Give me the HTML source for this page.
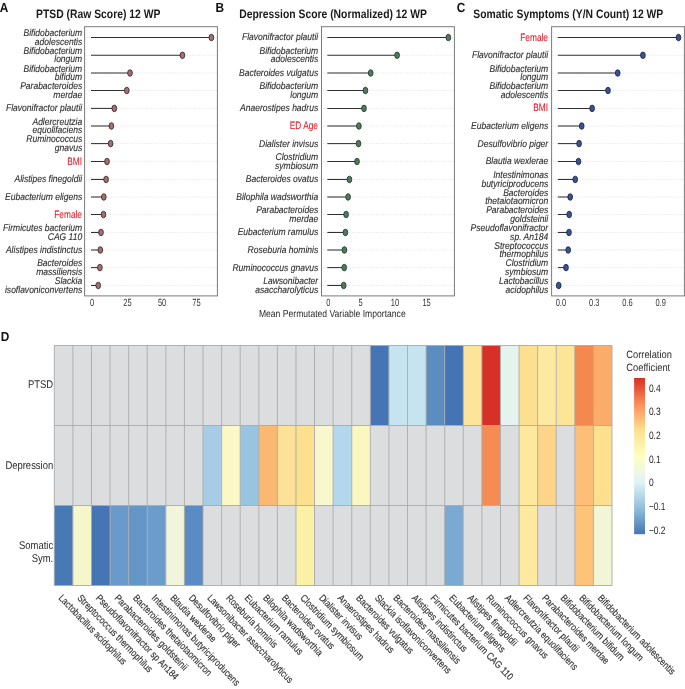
<!DOCTYPE html>
<html><head><meta charset="utf-8"><style>
html,body{margin:0;padding:0;background:#fff;}
svg{display:block;will-change:transform;}
text{font-family:"Liberation Sans", sans-serif;text-rendering:geometricPrecision;}
</style></head><body>
<svg width="685" height="689" viewBox="0 0 685 689">
<rect width="685" height="689" fill="#fff"/>
<text transform="translate(-0.30,11.80) scale(0.9,1)" font-size="13.2" text-anchor="start" fill="#111" font-weight="bold" >A</text>
<text transform="translate(215.50,11.80) scale(0.9,1)" font-size="13.2" text-anchor="start" fill="#111" font-weight="bold" >B</text>
<text transform="translate(456.80,11.80) scale(0.9,1)" font-size="13.2" text-anchor="start" fill="#111" font-weight="bold" >C</text>
<text transform="translate(0.80,340.60) scale(0.9,1)" font-size="13.2" text-anchor="start" fill="#111" font-weight="bold" >D</text>
<text transform="translate(36.00,17.80) scale(0.85,1)" font-size="12.2" text-anchor="start" fill="#1a1a1a" font-weight="bold" >PTSD (Raw Score) 12 WP</text>
<text transform="translate(239.20,17.80) scale(0.85,1)" font-size="12.2" text-anchor="start" fill="#1a1a1a" font-weight="bold" >Depression Score (Normalized) 12 WP</text>
<text transform="translate(473.30,17.80) scale(0.85,1)" font-size="12.2" text-anchor="start" fill="#1a1a1a" font-weight="bold" >Somatic Symptoms (Y/N Count) 12 WP</text>
<line x1="86.10" y1="37.50" x2="216.90" y2="37.50" stroke="#e2e2e2" stroke-width="0.9" stroke-dasharray="1 1.4"/>
<line x1="86.10" y1="55.30" x2="216.90" y2="55.30" stroke="#e2e2e2" stroke-width="0.9" stroke-dasharray="1 1.4"/>
<line x1="86.10" y1="73.00" x2="216.90" y2="73.00" stroke="#e2e2e2" stroke-width="0.9" stroke-dasharray="1 1.4"/>
<line x1="86.10" y1="90.50" x2="216.90" y2="90.50" stroke="#e2e2e2" stroke-width="0.9" stroke-dasharray="1 1.4"/>
<line x1="86.10" y1="108.40" x2="216.90" y2="108.40" stroke="#e2e2e2" stroke-width="0.9" stroke-dasharray="1 1.4"/>
<line x1="86.10" y1="126.00" x2="216.90" y2="126.00" stroke="#e2e2e2" stroke-width="0.9" stroke-dasharray="1 1.4"/>
<line x1="86.10" y1="143.60" x2="216.90" y2="143.60" stroke="#e2e2e2" stroke-width="0.9" stroke-dasharray="1 1.4"/>
<line x1="86.10" y1="161.50" x2="216.90" y2="161.50" stroke="#e2e2e2" stroke-width="0.9" stroke-dasharray="1 1.4"/>
<line x1="86.10" y1="179.45" x2="216.90" y2="179.45" stroke="#e2e2e2" stroke-width="0.9" stroke-dasharray="1 1.4"/>
<line x1="86.10" y1="197.00" x2="216.90" y2="197.00" stroke="#e2e2e2" stroke-width="0.9" stroke-dasharray="1 1.4"/>
<line x1="86.10" y1="214.50" x2="216.90" y2="214.50" stroke="#e2e2e2" stroke-width="0.9" stroke-dasharray="1 1.4"/>
<line x1="86.10" y1="232.45" x2="216.90" y2="232.45" stroke="#e2e2e2" stroke-width="0.9" stroke-dasharray="1 1.4"/>
<line x1="86.10" y1="250.00" x2="216.90" y2="250.00" stroke="#e2e2e2" stroke-width="0.9" stroke-dasharray="1 1.4"/>
<line x1="86.10" y1="267.60" x2="216.90" y2="267.60" stroke="#e2e2e2" stroke-width="0.9" stroke-dasharray="1 1.4"/>
<line x1="86.10" y1="285.45" x2="216.90" y2="285.45" stroke="#e2e2e2" stroke-width="0.9" stroke-dasharray="1 1.4"/>
<rect x="84.60" y="26.70" width="132.80" height="269.20" fill="none" stroke="#7a7a7a" stroke-width="1"/>
<line x1="91.00" y1="37.50" x2="211.40" y2="37.50" stroke="#303030" stroke-width="1.05"/>
<ellipse cx="211.40" cy="37.50" rx="2.35" ry="3.3" fill="#a56e73" stroke="#2e2224" stroke-width="0.8"/>
<text transform="translate(82.20,36.30) scale(0.87,1)" font-size="9.8" text-anchor="end" fill="#2e2e2e" stroke="#2e2e2e" stroke-width="0.12" font-style="italic" >Bifidobacterium</text>
<text transform="translate(82.20,44.60) scale(0.87,1)" font-size="9.8" text-anchor="end" fill="#2e2e2e" stroke="#2e2e2e" stroke-width="0.12" font-style="italic" >adolescentis</text>
<line x1="91.00" y1="55.30" x2="182.40" y2="55.30" stroke="#303030" stroke-width="1.05"/>
<ellipse cx="182.40" cy="55.30" rx="2.35" ry="3.3" fill="#a56e73" stroke="#2e2224" stroke-width="0.8"/>
<text transform="translate(82.20,54.10) scale(0.87,1)" font-size="9.8" text-anchor="end" fill="#2e2e2e" stroke="#2e2e2e" stroke-width="0.12" font-style="italic" >Bifidobacterium</text>
<text transform="translate(82.20,62.40) scale(0.87,1)" font-size="9.8" text-anchor="end" fill="#2e2e2e" stroke="#2e2e2e" stroke-width="0.12" font-style="italic" >longum</text>
<line x1="91.00" y1="73.00" x2="130.00" y2="73.00" stroke="#303030" stroke-width="1.05"/>
<ellipse cx="130.00" cy="73.00" rx="2.35" ry="3.3" fill="#a56e73" stroke="#2e2224" stroke-width="0.8"/>
<text transform="translate(82.20,71.80) scale(0.87,1)" font-size="9.8" text-anchor="end" fill="#2e2e2e" stroke="#2e2e2e" stroke-width="0.12" font-style="italic" >Bifidobacterium</text>
<text transform="translate(82.20,80.10) scale(0.87,1)" font-size="9.8" text-anchor="end" fill="#2e2e2e" stroke="#2e2e2e" stroke-width="0.12" font-style="italic" >bifidum</text>
<line x1="91.00" y1="90.50" x2="126.80" y2="90.50" stroke="#303030" stroke-width="1.05"/>
<ellipse cx="126.80" cy="90.50" rx="2.35" ry="3.3" fill="#a56e73" stroke="#2e2224" stroke-width="0.8"/>
<text transform="translate(82.20,89.30) scale(0.87,1)" font-size="9.8" text-anchor="end" fill="#2e2e2e" stroke="#2e2e2e" stroke-width="0.12" font-style="italic" >Parabacteroides</text>
<text transform="translate(82.20,97.60) scale(0.87,1)" font-size="9.8" text-anchor="end" fill="#2e2e2e" stroke="#2e2e2e" stroke-width="0.12" font-style="italic" >merdae</text>
<line x1="91.00" y1="108.40" x2="114.30" y2="108.40" stroke="#303030" stroke-width="1.05"/>
<ellipse cx="114.30" cy="108.40" rx="2.35" ry="3.3" fill="#a56e73" stroke="#2e2224" stroke-width="0.8"/>
<text transform="translate(82.20,111.30) scale(0.87,1)" font-size="9.8" text-anchor="end" fill="#2e2e2e" stroke="#2e2e2e" stroke-width="0.12" font-style="italic" >Flavonifractor plautii</text>
<line x1="91.00" y1="126.00" x2="111.40" y2="126.00" stroke="#303030" stroke-width="1.05"/>
<ellipse cx="111.40" cy="126.00" rx="2.35" ry="3.3" fill="#a56e73" stroke="#2e2224" stroke-width="0.8"/>
<text transform="translate(82.20,124.80) scale(0.87,1)" font-size="9.8" text-anchor="end" fill="#2e2e2e" stroke="#2e2e2e" stroke-width="0.12" font-style="italic" >Adlercreutzia</text>
<text transform="translate(82.20,133.10) scale(0.87,1)" font-size="9.8" text-anchor="end" fill="#2e2e2e" stroke="#2e2e2e" stroke-width="0.12" font-style="italic" >equolifaciens</text>
<line x1="91.00" y1="143.60" x2="110.60" y2="143.60" stroke="#303030" stroke-width="1.05"/>
<ellipse cx="110.60" cy="143.60" rx="2.35" ry="3.3" fill="#a56e73" stroke="#2e2224" stroke-width="0.8"/>
<text transform="translate(82.20,142.40) scale(0.87,1)" font-size="9.8" text-anchor="end" fill="#2e2e2e" stroke="#2e2e2e" stroke-width="0.12" font-style="italic" >Ruminococcus</text>
<text transform="translate(82.20,150.70) scale(0.87,1)" font-size="9.8" text-anchor="end" fill="#2e2e2e" stroke="#2e2e2e" stroke-width="0.12" font-style="italic" >gnavus</text>
<line x1="91.00" y1="161.50" x2="107.00" y2="161.50" stroke="#303030" stroke-width="1.05"/>
<ellipse cx="107.00" cy="161.50" rx="2.35" ry="3.3" fill="#a56e73" stroke="#2e2224" stroke-width="0.8"/>
<text transform="translate(82.00,164.50) scale(0.77,1)" font-size="10.8" text-anchor="end" fill="#e41e2b" stroke="#e41e2b" stroke-width="0.1" >BMI</text>
<line x1="91.00" y1="179.45" x2="106.10" y2="179.45" stroke="#303030" stroke-width="1.05"/>
<ellipse cx="106.10" cy="179.45" rx="2.35" ry="3.3" fill="#a56e73" stroke="#2e2224" stroke-width="0.8"/>
<text transform="translate(82.20,182.35) scale(0.87,1)" font-size="9.8" text-anchor="end" fill="#2e2e2e" stroke="#2e2e2e" stroke-width="0.12" font-style="italic" >Alistipes finegoldii</text>
<line x1="91.00" y1="197.00" x2="103.80" y2="197.00" stroke="#303030" stroke-width="1.05"/>
<ellipse cx="103.80" cy="197.00" rx="2.35" ry="3.3" fill="#a56e73" stroke="#2e2224" stroke-width="0.8"/>
<text transform="translate(82.20,199.90) scale(0.87,1)" font-size="9.8" text-anchor="end" fill="#2e2e2e" stroke="#2e2e2e" stroke-width="0.12" font-style="italic" >Eubacterium eligens</text>
<line x1="91.00" y1="214.50" x2="103.50" y2="214.50" stroke="#303030" stroke-width="1.05"/>
<ellipse cx="103.50" cy="214.50" rx="2.35" ry="3.3" fill="#a56e73" stroke="#2e2224" stroke-width="0.8"/>
<text transform="translate(82.00,217.50) scale(0.77,1)" font-size="10.8" text-anchor="end" fill="#e41e2b" stroke="#e41e2b" stroke-width="0.1" >Female</text>
<line x1="91.00" y1="232.45" x2="101.00" y2="232.45" stroke="#303030" stroke-width="1.05"/>
<ellipse cx="101.00" cy="232.45" rx="2.35" ry="3.3" fill="#a56e73" stroke="#2e2224" stroke-width="0.8"/>
<text transform="translate(82.20,231.25) scale(0.87,1)" font-size="9.8" text-anchor="end" fill="#2e2e2e" stroke="#2e2e2e" stroke-width="0.12" font-style="italic" >Firmicutes bacterium</text>
<text transform="translate(82.20,239.55) scale(0.87,1)" font-size="9.8" text-anchor="end" fill="#2e2e2e" stroke="#2e2e2e" stroke-width="0.12" font-style="italic" >CAG 110</text>
<line x1="91.00" y1="250.00" x2="100.30" y2="250.00" stroke="#303030" stroke-width="1.05"/>
<ellipse cx="100.30" cy="250.00" rx="2.35" ry="3.3" fill="#a56e73" stroke="#2e2224" stroke-width="0.8"/>
<text transform="translate(82.20,252.90) scale(0.87,1)" font-size="9.8" text-anchor="end" fill="#2e2e2e" stroke="#2e2e2e" stroke-width="0.12" font-style="italic" >Alistipes indistinctus</text>
<line x1="91.00" y1="267.60" x2="99.90" y2="267.60" stroke="#303030" stroke-width="1.05"/>
<ellipse cx="99.90" cy="267.60" rx="2.35" ry="3.3" fill="#a56e73" stroke="#2e2224" stroke-width="0.8"/>
<text transform="translate(82.20,266.40) scale(0.87,1)" font-size="9.8" text-anchor="end" fill="#2e2e2e" stroke="#2e2e2e" stroke-width="0.12" font-style="italic" >Bacteroides</text>
<text transform="translate(82.20,274.70) scale(0.87,1)" font-size="9.8" text-anchor="end" fill="#2e2e2e" stroke="#2e2e2e" stroke-width="0.12" font-style="italic" >massiliensis</text>
<line x1="91.00" y1="285.45" x2="98.20" y2="285.45" stroke="#303030" stroke-width="1.05"/>
<ellipse cx="98.20" cy="285.45" rx="2.35" ry="3.3" fill="#a56e73" stroke="#2e2224" stroke-width="0.8"/>
<text transform="translate(82.20,284.25) scale(0.87,1)" font-size="9.8" text-anchor="end" fill="#2e2e2e" stroke="#2e2e2e" stroke-width="0.12" font-style="italic" >Slackia</text>
<text transform="translate(82.20,292.55) scale(0.87,1)" font-size="9.8" text-anchor="end" fill="#2e2e2e" stroke="#2e2e2e" stroke-width="0.12" font-style="italic" >isoflavoniconvertens</text>
<text transform="translate(92.00,305.90) scale(0.72,1)" font-size="10.4" text-anchor="middle" fill="#333" >0</text>
<text transform="translate(127.50,305.90) scale(0.72,1)" font-size="10.4" text-anchor="middle" fill="#333" >25</text>
<text transform="translate(162.10,305.90) scale(0.72,1)" font-size="10.4" text-anchor="middle" fill="#333" >50</text>
<text transform="translate(196.50,305.90) scale(0.72,1)" font-size="10.4" text-anchor="middle" fill="#333" >75</text>
<line x1="323.00" y1="37.50" x2="453.90" y2="37.50" stroke="#e2e2e2" stroke-width="0.9" stroke-dasharray="1 1.4"/>
<line x1="323.00" y1="55.30" x2="453.90" y2="55.30" stroke="#e2e2e2" stroke-width="0.9" stroke-dasharray="1 1.4"/>
<line x1="323.00" y1="73.00" x2="453.90" y2="73.00" stroke="#e2e2e2" stroke-width="0.9" stroke-dasharray="1 1.4"/>
<line x1="323.00" y1="90.50" x2="453.90" y2="90.50" stroke="#e2e2e2" stroke-width="0.9" stroke-dasharray="1 1.4"/>
<line x1="323.00" y1="108.40" x2="453.90" y2="108.40" stroke="#e2e2e2" stroke-width="0.9" stroke-dasharray="1 1.4"/>
<line x1="323.00" y1="126.00" x2="453.90" y2="126.00" stroke="#e2e2e2" stroke-width="0.9" stroke-dasharray="1 1.4"/>
<line x1="323.00" y1="143.60" x2="453.90" y2="143.60" stroke="#e2e2e2" stroke-width="0.9" stroke-dasharray="1 1.4"/>
<line x1="323.00" y1="161.50" x2="453.90" y2="161.50" stroke="#e2e2e2" stroke-width="0.9" stroke-dasharray="1 1.4"/>
<line x1="323.00" y1="179.45" x2="453.90" y2="179.45" stroke="#e2e2e2" stroke-width="0.9" stroke-dasharray="1 1.4"/>
<line x1="323.00" y1="197.00" x2="453.90" y2="197.00" stroke="#e2e2e2" stroke-width="0.9" stroke-dasharray="1 1.4"/>
<line x1="323.00" y1="214.50" x2="453.90" y2="214.50" stroke="#e2e2e2" stroke-width="0.9" stroke-dasharray="1 1.4"/>
<line x1="323.00" y1="232.45" x2="453.90" y2="232.45" stroke="#e2e2e2" stroke-width="0.9" stroke-dasharray="1 1.4"/>
<line x1="323.00" y1="250.00" x2="453.90" y2="250.00" stroke="#e2e2e2" stroke-width="0.9" stroke-dasharray="1 1.4"/>
<line x1="323.00" y1="267.60" x2="453.90" y2="267.60" stroke="#e2e2e2" stroke-width="0.9" stroke-dasharray="1 1.4"/>
<line x1="323.00" y1="285.45" x2="453.90" y2="285.45" stroke="#e2e2e2" stroke-width="0.9" stroke-dasharray="1 1.4"/>
<rect x="321.50" y="26.70" width="132.90" height="269.20" fill="none" stroke="#7a7a7a" stroke-width="1"/>
<line x1="327.30" y1="37.50" x2="448.30" y2="37.50" stroke="#303030" stroke-width="1.05"/>
<ellipse cx="448.30" cy="37.50" rx="2.35" ry="3.3" fill="#4e7a5e" stroke="#1f3326" stroke-width="0.8"/>
<text transform="translate(318.20,40.40) scale(0.87,1)" font-size="9.8" text-anchor="end" fill="#2e2e2e" stroke="#2e2e2e" stroke-width="0.12" font-style="italic" >Flavonifractor plautii</text>
<line x1="327.30" y1="55.30" x2="397.10" y2="55.30" stroke="#303030" stroke-width="1.05"/>
<ellipse cx="397.10" cy="55.30" rx="2.35" ry="3.3" fill="#4e7a5e" stroke="#1f3326" stroke-width="0.8"/>
<text transform="translate(318.20,54.10) scale(0.87,1)" font-size="9.8" text-anchor="end" fill="#2e2e2e" stroke="#2e2e2e" stroke-width="0.12" font-style="italic" >Bifidobacterium</text>
<text transform="translate(318.20,62.40) scale(0.87,1)" font-size="9.8" text-anchor="end" fill="#2e2e2e" stroke="#2e2e2e" stroke-width="0.12" font-style="italic" >adolescentis</text>
<line x1="327.30" y1="73.00" x2="370.70" y2="73.00" stroke="#303030" stroke-width="1.05"/>
<ellipse cx="370.70" cy="73.00" rx="2.35" ry="3.3" fill="#4e7a5e" stroke="#1f3326" stroke-width="0.8"/>
<text transform="translate(318.20,75.90) scale(0.87,1)" font-size="9.8" text-anchor="end" fill="#2e2e2e" stroke="#2e2e2e" stroke-width="0.12" font-style="italic" >Bacteroides vulgatus</text>
<line x1="327.30" y1="90.50" x2="365.40" y2="90.50" stroke="#303030" stroke-width="1.05"/>
<ellipse cx="365.40" cy="90.50" rx="2.35" ry="3.3" fill="#4e7a5e" stroke="#1f3326" stroke-width="0.8"/>
<text transform="translate(318.20,89.30) scale(0.87,1)" font-size="9.8" text-anchor="end" fill="#2e2e2e" stroke="#2e2e2e" stroke-width="0.12" font-style="italic" >Bifidobacterium</text>
<text transform="translate(318.20,97.60) scale(0.87,1)" font-size="9.8" text-anchor="end" fill="#2e2e2e" stroke="#2e2e2e" stroke-width="0.12" font-style="italic" >longum</text>
<line x1="327.30" y1="108.40" x2="364.00" y2="108.40" stroke="#303030" stroke-width="1.05"/>
<ellipse cx="364.00" cy="108.40" rx="2.35" ry="3.3" fill="#4e7a5e" stroke="#1f3326" stroke-width="0.8"/>
<text transform="translate(318.20,111.30) scale(0.87,1)" font-size="9.8" text-anchor="end" fill="#2e2e2e" stroke="#2e2e2e" stroke-width="0.12" font-style="italic" >Anaerostipes hadrus</text>
<line x1="327.30" y1="126.00" x2="358.90" y2="126.00" stroke="#303030" stroke-width="1.05"/>
<ellipse cx="358.90" cy="126.00" rx="2.35" ry="3.3" fill="#4e7a5e" stroke="#1f3326" stroke-width="0.8"/>
<text transform="translate(318.00,129.00) scale(0.77,1)" font-size="10.8" text-anchor="end" fill="#e41e2b" stroke="#e41e2b" stroke-width="0.1" >ED Age</text>
<line x1="327.30" y1="143.60" x2="358.50" y2="143.60" stroke="#303030" stroke-width="1.05"/>
<ellipse cx="358.50" cy="143.60" rx="2.35" ry="3.3" fill="#4e7a5e" stroke="#1f3326" stroke-width="0.8"/>
<text transform="translate(318.20,146.50) scale(0.87,1)" font-size="9.8" text-anchor="end" fill="#2e2e2e" stroke="#2e2e2e" stroke-width="0.12" font-style="italic" >Dialister invisus</text>
<line x1="327.30" y1="161.50" x2="357.00" y2="161.50" stroke="#303030" stroke-width="1.05"/>
<ellipse cx="357.00" cy="161.50" rx="2.35" ry="3.3" fill="#4e7a5e" stroke="#1f3326" stroke-width="0.8"/>
<text transform="translate(318.20,160.30) scale(0.87,1)" font-size="9.8" text-anchor="end" fill="#2e2e2e" stroke="#2e2e2e" stroke-width="0.12" font-style="italic" >Clostridium</text>
<text transform="translate(318.20,168.60) scale(0.87,1)" font-size="9.8" text-anchor="end" fill="#2e2e2e" stroke="#2e2e2e" stroke-width="0.12" font-style="italic" >symbiosum</text>
<line x1="327.30" y1="179.45" x2="349.40" y2="179.45" stroke="#303030" stroke-width="1.05"/>
<ellipse cx="349.40" cy="179.45" rx="2.35" ry="3.3" fill="#4e7a5e" stroke="#1f3326" stroke-width="0.8"/>
<text transform="translate(318.20,182.35) scale(0.87,1)" font-size="9.8" text-anchor="end" fill="#2e2e2e" stroke="#2e2e2e" stroke-width="0.12" font-style="italic" >Bacteroides ovatus</text>
<line x1="327.30" y1="197.00" x2="348.10" y2="197.00" stroke="#303030" stroke-width="1.05"/>
<ellipse cx="348.10" cy="197.00" rx="2.35" ry="3.3" fill="#4e7a5e" stroke="#1f3326" stroke-width="0.8"/>
<text transform="translate(318.20,199.90) scale(0.87,1)" font-size="9.8" text-anchor="end" fill="#2e2e2e" stroke="#2e2e2e" stroke-width="0.12" font-style="italic" >Bilophila wadsworthia</text>
<line x1="327.30" y1="214.50" x2="346.10" y2="214.50" stroke="#303030" stroke-width="1.05"/>
<ellipse cx="346.10" cy="214.50" rx="2.35" ry="3.3" fill="#4e7a5e" stroke="#1f3326" stroke-width="0.8"/>
<text transform="translate(318.20,213.30) scale(0.87,1)" font-size="9.8" text-anchor="end" fill="#2e2e2e" stroke="#2e2e2e" stroke-width="0.12" font-style="italic" >Parabacteroides</text>
<text transform="translate(318.20,221.60) scale(0.87,1)" font-size="9.8" text-anchor="end" fill="#2e2e2e" stroke="#2e2e2e" stroke-width="0.12" font-style="italic" >merdae</text>
<line x1="327.30" y1="232.45" x2="345.40" y2="232.45" stroke="#303030" stroke-width="1.05"/>
<ellipse cx="345.40" cy="232.45" rx="2.35" ry="3.3" fill="#4e7a5e" stroke="#1f3326" stroke-width="0.8"/>
<text transform="translate(318.20,235.35) scale(0.87,1)" font-size="9.8" text-anchor="end" fill="#2e2e2e" stroke="#2e2e2e" stroke-width="0.12" font-style="italic" >Eubacterium ramulus</text>
<line x1="327.30" y1="250.00" x2="344.40" y2="250.00" stroke="#303030" stroke-width="1.05"/>
<ellipse cx="344.40" cy="250.00" rx="2.35" ry="3.3" fill="#4e7a5e" stroke="#1f3326" stroke-width="0.8"/>
<text transform="translate(318.20,252.90) scale(0.87,1)" font-size="9.8" text-anchor="end" fill="#2e2e2e" stroke="#2e2e2e" stroke-width="0.12" font-style="italic" >Roseburia hominis</text>
<line x1="327.30" y1="267.60" x2="344.20" y2="267.60" stroke="#303030" stroke-width="1.05"/>
<ellipse cx="344.20" cy="267.60" rx="2.35" ry="3.3" fill="#4e7a5e" stroke="#1f3326" stroke-width="0.8"/>
<text transform="translate(318.20,270.50) scale(0.87,1)" font-size="9.8" text-anchor="end" fill="#2e2e2e" stroke="#2e2e2e" stroke-width="0.12" font-style="italic" >Ruminococcus gnavus</text>
<line x1="327.30" y1="285.45" x2="343.70" y2="285.45" stroke="#303030" stroke-width="1.05"/>
<ellipse cx="343.70" cy="285.45" rx="2.35" ry="3.3" fill="#4e7a5e" stroke="#1f3326" stroke-width="0.8"/>
<text transform="translate(318.20,284.25) scale(0.87,1)" font-size="9.8" text-anchor="end" fill="#2e2e2e" stroke="#2e2e2e" stroke-width="0.12" font-style="italic" >Lawsonibacter</text>
<text transform="translate(318.20,292.55) scale(0.87,1)" font-size="9.8" text-anchor="end" fill="#2e2e2e" stroke="#2e2e2e" stroke-width="0.12" font-style="italic" >asaccharolyticus</text>
<text transform="translate(328.40,305.90) scale(0.72,1)" font-size="10.4" text-anchor="middle" fill="#333" >0</text>
<text transform="translate(360.70,305.90) scale(0.72,1)" font-size="10.4" text-anchor="middle" fill="#333" >5</text>
<text transform="translate(395.00,305.90) scale(0.72,1)" font-size="10.4" text-anchor="middle" fill="#333" >10</text>
<text transform="translate(426.60,305.90) scale(0.72,1)" font-size="10.4" text-anchor="middle" fill="#333" >15</text>
<line x1="553.10" y1="37.50" x2="683.90" y2="37.50" stroke="#e2e2e2" stroke-width="0.9" stroke-dasharray="1 1.4"/>
<line x1="553.10" y1="55.30" x2="683.90" y2="55.30" stroke="#e2e2e2" stroke-width="0.9" stroke-dasharray="1 1.4"/>
<line x1="553.10" y1="73.00" x2="683.90" y2="73.00" stroke="#e2e2e2" stroke-width="0.9" stroke-dasharray="1 1.4"/>
<line x1="553.10" y1="90.50" x2="683.90" y2="90.50" stroke="#e2e2e2" stroke-width="0.9" stroke-dasharray="1 1.4"/>
<line x1="553.10" y1="108.40" x2="683.90" y2="108.40" stroke="#e2e2e2" stroke-width="0.9" stroke-dasharray="1 1.4"/>
<line x1="553.10" y1="126.00" x2="683.90" y2="126.00" stroke="#e2e2e2" stroke-width="0.9" stroke-dasharray="1 1.4"/>
<line x1="553.10" y1="143.60" x2="683.90" y2="143.60" stroke="#e2e2e2" stroke-width="0.9" stroke-dasharray="1 1.4"/>
<line x1="553.10" y1="161.50" x2="683.90" y2="161.50" stroke="#e2e2e2" stroke-width="0.9" stroke-dasharray="1 1.4"/>
<line x1="553.10" y1="179.45" x2="683.90" y2="179.45" stroke="#e2e2e2" stroke-width="0.9" stroke-dasharray="1 1.4"/>
<line x1="553.10" y1="197.00" x2="683.90" y2="197.00" stroke="#e2e2e2" stroke-width="0.9" stroke-dasharray="1 1.4"/>
<line x1="553.10" y1="214.50" x2="683.90" y2="214.50" stroke="#e2e2e2" stroke-width="0.9" stroke-dasharray="1 1.4"/>
<line x1="553.10" y1="232.45" x2="683.90" y2="232.45" stroke="#e2e2e2" stroke-width="0.9" stroke-dasharray="1 1.4"/>
<line x1="553.10" y1="250.00" x2="683.90" y2="250.00" stroke="#e2e2e2" stroke-width="0.9" stroke-dasharray="1 1.4"/>
<line x1="553.10" y1="267.60" x2="683.90" y2="267.60" stroke="#e2e2e2" stroke-width="0.9" stroke-dasharray="1 1.4"/>
<line x1="553.10" y1="285.45" x2="683.90" y2="285.45" stroke="#e2e2e2" stroke-width="0.9" stroke-dasharray="1 1.4"/>
<rect x="551.60" y="26.70" width="132.80" height="269.20" fill="none" stroke="#7a7a7a" stroke-width="1"/>
<line x1="557.80" y1="37.50" x2="678.50" y2="37.50" stroke="#303030" stroke-width="1.05"/>
<ellipse cx="678.50" cy="37.50" rx="2.35" ry="3.3" fill="#3a5392" stroke="#15203d" stroke-width="0.8"/>
<text transform="translate(548.00,40.50) scale(0.77,1)" font-size="10.8" text-anchor="end" fill="#e41e2b" stroke="#e41e2b" stroke-width="0.1" >Female</text>
<line x1="557.80" y1="55.30" x2="642.90" y2="55.30" stroke="#303030" stroke-width="1.05"/>
<ellipse cx="642.90" cy="55.30" rx="2.35" ry="3.3" fill="#3a5392" stroke="#15203d" stroke-width="0.8"/>
<text transform="translate(548.20,58.20) scale(0.87,1)" font-size="9.8" text-anchor="end" fill="#2e2e2e" stroke="#2e2e2e" stroke-width="0.12" font-style="italic" >Flavonifractor plautii</text>
<line x1="557.80" y1="73.00" x2="617.70" y2="73.00" stroke="#303030" stroke-width="1.05"/>
<ellipse cx="617.70" cy="73.00" rx="2.35" ry="3.3" fill="#3a5392" stroke="#15203d" stroke-width="0.8"/>
<text transform="translate(548.20,71.80) scale(0.87,1)" font-size="9.8" text-anchor="end" fill="#2e2e2e" stroke="#2e2e2e" stroke-width="0.12" font-style="italic" >Bifidobacterium</text>
<text transform="translate(548.20,80.10) scale(0.87,1)" font-size="9.8" text-anchor="end" fill="#2e2e2e" stroke="#2e2e2e" stroke-width="0.12" font-style="italic" >longum</text>
<line x1="557.80" y1="90.50" x2="608.00" y2="90.50" stroke="#303030" stroke-width="1.05"/>
<ellipse cx="608.00" cy="90.50" rx="2.35" ry="3.3" fill="#3a5392" stroke="#15203d" stroke-width="0.8"/>
<text transform="translate(548.20,89.30) scale(0.87,1)" font-size="9.8" text-anchor="end" fill="#2e2e2e" stroke="#2e2e2e" stroke-width="0.12" font-style="italic" >Bifidobacterium</text>
<text transform="translate(548.20,97.60) scale(0.87,1)" font-size="9.8" text-anchor="end" fill="#2e2e2e" stroke="#2e2e2e" stroke-width="0.12" font-style="italic" >adolescentis</text>
<line x1="557.80" y1="108.40" x2="592.10" y2="108.40" stroke="#303030" stroke-width="1.05"/>
<ellipse cx="592.10" cy="108.40" rx="2.35" ry="3.3" fill="#3a5392" stroke="#15203d" stroke-width="0.8"/>
<text transform="translate(548.00,111.40) scale(0.77,1)" font-size="10.8" text-anchor="end" fill="#e41e2b" stroke="#e41e2b" stroke-width="0.1" >BMI</text>
<line x1="557.80" y1="126.00" x2="581.70" y2="126.00" stroke="#303030" stroke-width="1.05"/>
<ellipse cx="581.70" cy="126.00" rx="2.35" ry="3.3" fill="#3a5392" stroke="#15203d" stroke-width="0.8"/>
<text transform="translate(548.20,128.90) scale(0.87,1)" font-size="9.8" text-anchor="end" fill="#2e2e2e" stroke="#2e2e2e" stroke-width="0.12" font-style="italic" >Eubacterium eligens</text>
<line x1="557.80" y1="143.60" x2="579.10" y2="143.60" stroke="#303030" stroke-width="1.05"/>
<ellipse cx="579.10" cy="143.60" rx="2.35" ry="3.3" fill="#3a5392" stroke="#15203d" stroke-width="0.8"/>
<text transform="translate(548.20,146.50) scale(0.87,1)" font-size="9.8" text-anchor="end" fill="#2e2e2e" stroke="#2e2e2e" stroke-width="0.12" font-style="italic" >Desulfovibrio piger</text>
<line x1="557.80" y1="161.50" x2="578.50" y2="161.50" stroke="#303030" stroke-width="1.05"/>
<ellipse cx="578.50" cy="161.50" rx="2.35" ry="3.3" fill="#3a5392" stroke="#15203d" stroke-width="0.8"/>
<text transform="translate(548.20,164.40) scale(0.87,1)" font-size="9.8" text-anchor="end" fill="#2e2e2e" stroke="#2e2e2e" stroke-width="0.12" font-style="italic" >Blautia wexlerae</text>
<line x1="557.80" y1="179.45" x2="575.20" y2="179.45" stroke="#303030" stroke-width="1.05"/>
<ellipse cx="575.20" cy="179.45" rx="2.35" ry="3.3" fill="#3a5392" stroke="#15203d" stroke-width="0.8"/>
<text transform="translate(548.20,178.25) scale(0.87,1)" font-size="9.8" text-anchor="end" fill="#2e2e2e" stroke="#2e2e2e" stroke-width="0.12" font-style="italic" >Intestinimonas</text>
<text transform="translate(548.20,186.55) scale(0.87,1)" font-size="9.8" text-anchor="end" fill="#2e2e2e" stroke="#2e2e2e" stroke-width="0.12" font-style="italic" >butyriciproducens</text>
<line x1="557.80" y1="197.00" x2="570.20" y2="197.00" stroke="#303030" stroke-width="1.05"/>
<ellipse cx="570.20" cy="197.00" rx="2.35" ry="3.3" fill="#3a5392" stroke="#15203d" stroke-width="0.8"/>
<text transform="translate(548.20,195.80) scale(0.87,1)" font-size="9.8" text-anchor="end" fill="#2e2e2e" stroke="#2e2e2e" stroke-width="0.12" font-style="italic" >Bacteroides</text>
<text transform="translate(548.20,204.10) scale(0.87,1)" font-size="9.8" text-anchor="end" fill="#2e2e2e" stroke="#2e2e2e" stroke-width="0.12" font-style="italic" >thetaiotaomicron</text>
<line x1="557.80" y1="214.50" x2="569.20" y2="214.50" stroke="#303030" stroke-width="1.05"/>
<ellipse cx="569.20" cy="214.50" rx="2.35" ry="3.3" fill="#3a5392" stroke="#15203d" stroke-width="0.8"/>
<text transform="translate(548.20,213.30) scale(0.87,1)" font-size="9.8" text-anchor="end" fill="#2e2e2e" stroke="#2e2e2e" stroke-width="0.12" font-style="italic" >Parabacteroides</text>
<text transform="translate(548.20,221.60) scale(0.87,1)" font-size="9.8" text-anchor="end" fill="#2e2e2e" stroke="#2e2e2e" stroke-width="0.12" font-style="italic" >goldsteinii</text>
<line x1="557.80" y1="232.45" x2="569.00" y2="232.45" stroke="#303030" stroke-width="1.05"/>
<ellipse cx="569.00" cy="232.45" rx="2.35" ry="3.3" fill="#3a5392" stroke="#15203d" stroke-width="0.8"/>
<text transform="translate(548.20,231.25) scale(0.87,1)" font-size="9.8" text-anchor="end" fill="#2e2e2e" stroke="#2e2e2e" stroke-width="0.12" font-style="italic" >Pseudoflavonifractor</text>
<text transform="translate(548.20,239.55) scale(0.87,1)" font-size="9.8" text-anchor="end" fill="#2e2e2e" stroke="#2e2e2e" stroke-width="0.12" font-style="italic" >sp. An184</text>
<line x1="557.80" y1="250.00" x2="568.20" y2="250.00" stroke="#303030" stroke-width="1.05"/>
<ellipse cx="568.20" cy="250.00" rx="2.35" ry="3.3" fill="#3a5392" stroke="#15203d" stroke-width="0.8"/>
<text transform="translate(548.20,248.80) scale(0.87,1)" font-size="9.8" text-anchor="end" fill="#2e2e2e" stroke="#2e2e2e" stroke-width="0.12" font-style="italic" >Streptococcus</text>
<text transform="translate(548.20,257.10) scale(0.87,1)" font-size="9.8" text-anchor="end" fill="#2e2e2e" stroke="#2e2e2e" stroke-width="0.12" font-style="italic" >thermophilus</text>
<line x1="557.80" y1="267.60" x2="566.00" y2="267.60" stroke="#303030" stroke-width="1.05"/>
<ellipse cx="566.00" cy="267.60" rx="2.35" ry="3.3" fill="#3a5392" stroke="#15203d" stroke-width="0.8"/>
<text transform="translate(548.20,266.40) scale(0.87,1)" font-size="9.8" text-anchor="end" fill="#2e2e2e" stroke="#2e2e2e" stroke-width="0.12" font-style="italic" >Clostridium</text>
<text transform="translate(548.20,274.70) scale(0.87,1)" font-size="9.8" text-anchor="end" fill="#2e2e2e" stroke="#2e2e2e" stroke-width="0.12" font-style="italic" >symbiosum</text>
<line x1="557.80" y1="285.45" x2="558.70" y2="285.45" stroke="#303030" stroke-width="1.05"/>
<ellipse cx="558.70" cy="285.45" rx="2.35" ry="3.3" fill="#3a5392" stroke="#15203d" stroke-width="0.8"/>
<text transform="translate(548.20,284.25) scale(0.87,1)" font-size="9.8" text-anchor="end" fill="#2e2e2e" stroke="#2e2e2e" stroke-width="0.12" font-style="italic" >Lactobacillus</text>
<text transform="translate(548.20,292.55) scale(0.87,1)" font-size="9.8" text-anchor="end" fill="#2e2e2e" stroke="#2e2e2e" stroke-width="0.12" font-style="italic" >acidophilus</text>
<text transform="translate(560.90,305.90) scale(0.72,1)" font-size="10.4" text-anchor="middle" fill="#333" >0.0</text>
<text transform="translate(594.30,305.90) scale(0.72,1)" font-size="10.4" text-anchor="middle" fill="#333" >0.3</text>
<text transform="translate(627.50,305.90) scale(0.72,1)" font-size="10.4" text-anchor="middle" fill="#333" >0.6</text>
<text transform="translate(660.60,305.90) scale(0.72,1)" font-size="10.4" text-anchor="middle" fill="#333" >0.9</text>
<text transform="translate(332.30,317.00) scale(0.85,1)" font-size="10.1" text-anchor="middle" fill="#2a2a2a" >Mean Permutated Variable Importance</text>
<rect x="54.30" y="345.50" width="18.590" height="80.00" fill="#dcdddf"/>
<rect x="72.89" y="345.50" width="18.590" height="80.00" fill="#dcdddf"/>
<rect x="91.48" y="345.50" width="18.590" height="80.00" fill="#dcdddf"/>
<rect x="110.07" y="345.50" width="18.590" height="80.00" fill="#dcdddf"/>
<rect x="128.66" y="345.50" width="18.590" height="80.00" fill="#dcdddf"/>
<rect x="147.25" y="345.50" width="18.590" height="80.00" fill="#dcdddf"/>
<rect x="165.84" y="345.50" width="18.590" height="80.00" fill="#dcdddf"/>
<rect x="184.43" y="345.50" width="18.590" height="80.00" fill="#dcdddf"/>
<rect x="203.02" y="345.50" width="18.590" height="80.00" fill="#dcdddf"/>
<rect x="221.61" y="345.50" width="18.590" height="80.00" fill="#dcdddf"/>
<rect x="240.20" y="345.50" width="18.590" height="80.00" fill="#dcdddf"/>
<rect x="258.79" y="345.50" width="18.590" height="80.00" fill="#dcdddf"/>
<rect x="277.38" y="345.50" width="18.590" height="80.00" fill="#dcdddf"/>
<rect x="295.97" y="345.50" width="18.590" height="80.00" fill="#dcdddf"/>
<rect x="314.56" y="345.50" width="18.590" height="80.00" fill="#dcdddf"/>
<rect x="333.15" y="345.50" width="18.590" height="80.00" fill="#dcdddf"/>
<rect x="351.74" y="345.50" width="18.590" height="80.00" fill="#dcdddf"/>
<rect x="370.33" y="345.50" width="18.590" height="80.00" fill="#4575b4"/>
<rect x="388.92" y="345.50" width="18.590" height="80.00" fill="#c6e3f0"/>
<rect x="407.51" y="345.50" width="18.590" height="80.00" fill="#c6e3f0"/>
<rect x="426.10" y="345.50" width="18.590" height="80.00" fill="#5b8dc0"/>
<rect x="444.69" y="345.50" width="18.590" height="80.00" fill="#4474b4"/>
<rect x="463.28" y="345.50" width="18.590" height="80.00" fill="#fce49a"/>
<rect x="481.87" y="345.50" width="18.590" height="80.00" fill="#d73027"/>
<rect x="500.46" y="345.50" width="18.590" height="80.00" fill="#e4f3ee"/>
<rect x="519.05" y="345.50" width="18.590" height="80.00" fill="#fde08f"/>
<rect x="537.64" y="345.50" width="18.590" height="80.00" fill="#fee9a0"/>
<rect x="556.23" y="345.50" width="18.590" height="80.00" fill="#fde597"/>
<rect x="574.82" y="345.50" width="18.590" height="80.00" fill="#f4894f"/>
<rect x="593.41" y="345.50" width="18.590" height="80.00" fill="#fbab6a"/>
<rect x="54.30" y="425.50" width="18.590" height="80.00" fill="#dcdddf"/>
<rect x="72.89" y="425.50" width="18.590" height="80.00" fill="#dcdddf"/>
<rect x="91.48" y="425.50" width="18.590" height="80.00" fill="#dcdddf"/>
<rect x="110.07" y="425.50" width="18.590" height="80.00" fill="#dcdddf"/>
<rect x="128.66" y="425.50" width="18.590" height="80.00" fill="#dcdddf"/>
<rect x="147.25" y="425.50" width="18.590" height="80.00" fill="#dcdddf"/>
<rect x="165.84" y="425.50" width="18.590" height="80.00" fill="#dcdddf"/>
<rect x="184.43" y="425.50" width="18.590" height="80.00" fill="#dcdddf"/>
<rect x="203.02" y="425.50" width="18.590" height="80.00" fill="#a6cde5"/>
<rect x="221.61" y="425.50" width="18.590" height="80.00" fill="#fbf7c6"/>
<rect x="240.20" y="425.50" width="18.590" height="80.00" fill="#98c4e0"/>
<rect x="258.79" y="425.50" width="18.590" height="80.00" fill="#fbb871"/>
<rect x="277.38" y="425.50" width="18.590" height="80.00" fill="#fce196"/>
<rect x="295.97" y="425.50" width="18.590" height="80.00" fill="#fde08e"/>
<rect x="314.56" y="425.50" width="18.590" height="80.00" fill="#f9f7cd"/>
<rect x="333.15" y="425.50" width="18.590" height="80.00" fill="#b3d8ee"/>
<rect x="351.74" y="425.50" width="18.590" height="80.00" fill="#fbf7c1"/>
<rect x="370.33" y="425.50" width="18.590" height="80.00" fill="#dcdddf"/>
<rect x="388.92" y="425.50" width="18.590" height="80.00" fill="#dcdddf"/>
<rect x="407.51" y="425.50" width="18.590" height="80.00" fill="#dcdddf"/>
<rect x="426.10" y="425.50" width="18.590" height="80.00" fill="#dcdddf"/>
<rect x="444.69" y="425.50" width="18.590" height="80.00" fill="#dcdddf"/>
<rect x="463.28" y="425.50" width="18.590" height="80.00" fill="#dcdddf"/>
<rect x="481.87" y="425.50" width="18.590" height="80.00" fill="#f48c53"/>
<rect x="500.46" y="425.50" width="18.590" height="80.00" fill="#dcdddf"/>
<rect x="519.05" y="425.50" width="18.590" height="80.00" fill="#fde89d"/>
<rect x="537.64" y="425.50" width="18.590" height="80.00" fill="#fdd58a"/>
<rect x="556.23" y="425.50" width="18.590" height="80.00" fill="#dcdddf"/>
<rect x="574.82" y="425.50" width="18.590" height="80.00" fill="#fdbf77"/>
<rect x="593.41" y="425.50" width="18.590" height="80.00" fill="#fde090"/>
<rect x="54.30" y="505.50" width="18.590" height="80.00" fill="#4779b5"/>
<rect x="72.89" y="505.50" width="18.590" height="80.00" fill="#f6f6cb"/>
<rect x="91.48" y="505.50" width="18.590" height="80.00" fill="#4575b4"/>
<rect x="110.07" y="505.50" width="18.590" height="80.00" fill="#6a9acb"/>
<rect x="128.66" y="505.50" width="18.590" height="80.00" fill="#6496c7"/>
<rect x="147.25" y="505.50" width="18.590" height="80.00" fill="#6c9cca"/>
<rect x="165.84" y="505.50" width="18.590" height="80.00" fill="#f1f5db"/>
<rect x="184.43" y="505.50" width="18.590" height="80.00" fill="#5a8bc2"/>
<rect x="203.02" y="505.50" width="18.590" height="80.00" fill="#dcdddf"/>
<rect x="221.61" y="505.50" width="18.590" height="80.00" fill="#dcdddf"/>
<rect x="240.20" y="505.50" width="18.590" height="80.00" fill="#dcdddf"/>
<rect x="258.79" y="505.50" width="18.590" height="80.00" fill="#dcdddf"/>
<rect x="277.38" y="505.50" width="18.590" height="80.00" fill="#dcdddf"/>
<rect x="295.97" y="505.50" width="18.590" height="80.00" fill="#fbf1a6"/>
<rect x="314.56" y="505.50" width="18.590" height="80.00" fill="#dcdddf"/>
<rect x="333.15" y="505.50" width="18.590" height="80.00" fill="#dcdddf"/>
<rect x="351.74" y="505.50" width="18.590" height="80.00" fill="#dcdddf"/>
<rect x="370.33" y="505.50" width="18.590" height="80.00" fill="#dcdddf"/>
<rect x="388.92" y="505.50" width="18.590" height="80.00" fill="#dcdddf"/>
<rect x="407.51" y="505.50" width="18.590" height="80.00" fill="#dcdddf"/>
<rect x="426.10" y="505.50" width="18.590" height="80.00" fill="#dcdddf"/>
<rect x="444.69" y="505.50" width="18.590" height="80.00" fill="#7aa9d2"/>
<rect x="463.28" y="505.50" width="18.590" height="80.00" fill="#dcdddf"/>
<rect x="481.87" y="505.50" width="18.590" height="80.00" fill="#dcdddf"/>
<rect x="500.46" y="505.50" width="18.590" height="80.00" fill="#dcdddf"/>
<rect x="519.05" y="505.50" width="18.590" height="80.00" fill="#fde9a0"/>
<rect x="537.64" y="505.50" width="18.590" height="80.00" fill="#dcdddf"/>
<rect x="556.23" y="505.50" width="18.590" height="80.00" fill="#dcdddf"/>
<rect x="574.82" y="505.50" width="18.590" height="80.00" fill="#fdc479"/>
<rect x="593.41" y="505.50" width="18.590" height="80.00" fill="#f3f6d6"/>
<line x1="54.30" y1="345.50" x2="54.30" y2="585.50" stroke="#a9a9a9" stroke-width="0.9"/>
<line x1="72.89" y1="345.50" x2="72.89" y2="585.50" stroke="#a9a9a9" stroke-width="0.9"/>
<line x1="91.48" y1="345.50" x2="91.48" y2="585.50" stroke="#a9a9a9" stroke-width="0.9"/>
<line x1="110.07" y1="345.50" x2="110.07" y2="585.50" stroke="#a9a9a9" stroke-width="0.9"/>
<line x1="128.66" y1="345.50" x2="128.66" y2="585.50" stroke="#a9a9a9" stroke-width="0.9"/>
<line x1="147.25" y1="345.50" x2="147.25" y2="585.50" stroke="#a9a9a9" stroke-width="0.9"/>
<line x1="165.84" y1="345.50" x2="165.84" y2="585.50" stroke="#a9a9a9" stroke-width="0.9"/>
<line x1="184.43" y1="345.50" x2="184.43" y2="585.50" stroke="#a9a9a9" stroke-width="0.9"/>
<line x1="203.02" y1="345.50" x2="203.02" y2="585.50" stroke="#a9a9a9" stroke-width="0.9"/>
<line x1="221.61" y1="345.50" x2="221.61" y2="585.50" stroke="#a9a9a9" stroke-width="0.9"/>
<line x1="240.20" y1="345.50" x2="240.20" y2="585.50" stroke="#a9a9a9" stroke-width="0.9"/>
<line x1="258.79" y1="345.50" x2="258.79" y2="585.50" stroke="#a9a9a9" stroke-width="0.9"/>
<line x1="277.38" y1="345.50" x2="277.38" y2="585.50" stroke="#a9a9a9" stroke-width="0.9"/>
<line x1="295.97" y1="345.50" x2="295.97" y2="585.50" stroke="#a9a9a9" stroke-width="0.9"/>
<line x1="314.56" y1="345.50" x2="314.56" y2="585.50" stroke="#a9a9a9" stroke-width="0.9"/>
<line x1="333.15" y1="345.50" x2="333.15" y2="585.50" stroke="#a9a9a9" stroke-width="0.9"/>
<line x1="351.74" y1="345.50" x2="351.74" y2="585.50" stroke="#a9a9a9" stroke-width="0.9"/>
<line x1="370.33" y1="345.50" x2="370.33" y2="585.50" stroke="#a9a9a9" stroke-width="0.9"/>
<line x1="388.92" y1="345.50" x2="388.92" y2="585.50" stroke="#a9a9a9" stroke-width="0.9"/>
<line x1="407.51" y1="345.50" x2="407.51" y2="585.50" stroke="#a9a9a9" stroke-width="0.9"/>
<line x1="426.10" y1="345.50" x2="426.10" y2="585.50" stroke="#a9a9a9" stroke-width="0.9"/>
<line x1="444.69" y1="345.50" x2="444.69" y2="585.50" stroke="#a9a9a9" stroke-width="0.9"/>
<line x1="463.28" y1="345.50" x2="463.28" y2="585.50" stroke="#a9a9a9" stroke-width="0.9"/>
<line x1="481.87" y1="345.50" x2="481.87" y2="585.50" stroke="#a9a9a9" stroke-width="0.9"/>
<line x1="500.46" y1="345.50" x2="500.46" y2="585.50" stroke="#a9a9a9" stroke-width="0.9"/>
<line x1="519.05" y1="345.50" x2="519.05" y2="585.50" stroke="#a9a9a9" stroke-width="0.9"/>
<line x1="537.64" y1="345.50" x2="537.64" y2="585.50" stroke="#a9a9a9" stroke-width="0.9"/>
<line x1="556.23" y1="345.50" x2="556.23" y2="585.50" stroke="#a9a9a9" stroke-width="0.9"/>
<line x1="574.82" y1="345.50" x2="574.82" y2="585.50" stroke="#a9a9a9" stroke-width="0.9"/>
<line x1="593.41" y1="345.50" x2="593.41" y2="585.50" stroke="#a9a9a9" stroke-width="0.9"/>
<line x1="612.00" y1="345.50" x2="612.00" y2="585.50" stroke="#a9a9a9" stroke-width="0.9"/>
<line x1="54.30" y1="345.50" x2="612.00" y2="345.50" stroke="#a9a9a9" stroke-width="0.9"/>
<line x1="54.30" y1="425.50" x2="612.00" y2="425.50" stroke="#a9a9a9" stroke-width="0.9"/>
<line x1="54.30" y1="505.50" x2="612.00" y2="505.50" stroke="#a9a9a9" stroke-width="0.9"/>
<line x1="54.30" y1="585.50" x2="612.00" y2="585.50" stroke="#a9a9a9" stroke-width="0.9"/>
<text transform="translate(53.20,388.30) scale(0.845,1)" font-size="11.2" text-anchor="end" fill="#2a2a2a" >PTSD</text>
<text transform="translate(53.20,468.80) scale(0.845,1)" font-size="11.2" text-anchor="end" fill="#2a2a2a" >Depression</text>
<text transform="translate(53.20,548.80) scale(0.845,1)" font-size="11.2" text-anchor="end" fill="#2a2a2a" >Somatic</text>
<text transform="translate(53.20,562.40) scale(0.845,1)" font-size="11.2" text-anchor="end" fill="#2a2a2a" >Sym.</text>
<text transform="translate(63.39,593.4) rotate(46) scale(0.85,1)" font-size="9.9" fill="#303030" stroke="#303030" stroke-width="0.16" dy="7.33">Lactobacillus acidophilus</text>
<text transform="translate(81.98,593.4) rotate(46) scale(0.85,1)" font-size="9.9" fill="#303030" stroke="#303030" stroke-width="0.16" dy="7.33">Streptococcus thermophilus</text>
<text transform="translate(100.58,593.4) rotate(46) scale(0.85,1)" font-size="9.9" fill="#303030" stroke="#303030" stroke-width="0.16" dy="7.33">Pseudoflavonifractor sp An184</text>
<text transform="translate(119.16,593.4) rotate(46) scale(0.85,1)" font-size="9.9" fill="#303030" stroke="#303030" stroke-width="0.16" dy="7.33">Parabacteroides goldsteinii</text>
<text transform="translate(137.75,593.4) rotate(46) scale(0.85,1)" font-size="9.9" fill="#303030" stroke="#303030" stroke-width="0.16" dy="7.33">Bacteroides thetaiotaomicron</text>
<text transform="translate(156.35,593.4) rotate(46) scale(0.85,1)" font-size="9.9" fill="#303030" stroke="#303030" stroke-width="0.16" dy="7.33">Intestinimonas butyriciproducens</text>
<text transform="translate(174.94,593.4) rotate(46) scale(0.85,1)" font-size="9.9" fill="#303030" stroke="#303030" stroke-width="0.16" dy="7.33">Blautia wexlerae</text>
<text transform="translate(193.53,593.4) rotate(46) scale(0.85,1)" font-size="9.9" fill="#303030" stroke="#303030" stroke-width="0.16" dy="7.33">Desulfovibrio piger</text>
<text transform="translate(212.12,593.4) rotate(46) scale(0.85,1)" font-size="9.9" fill="#303030" stroke="#303030" stroke-width="0.16" dy="7.33">Lawsonibacter asaccharolyticus</text>
<text transform="translate(230.70,593.4) rotate(46) scale(0.85,1)" font-size="9.9" fill="#303030" stroke="#303030" stroke-width="0.16" dy="7.33">Roseburia hominis</text>
<text transform="translate(249.30,593.4) rotate(46) scale(0.85,1)" font-size="9.9" fill="#303030" stroke="#303030" stroke-width="0.16" dy="7.33">Eubacterium ramulus</text>
<text transform="translate(267.88,593.4) rotate(46) scale(0.85,1)" font-size="9.9" fill="#303030" stroke="#303030" stroke-width="0.16" dy="7.33">Bilophila wadsworthia</text>
<text transform="translate(286.48,593.4) rotate(46) scale(0.85,1)" font-size="9.9" fill="#303030" stroke="#303030" stroke-width="0.16" dy="7.33">Bacteroides ovatus</text>
<text transform="translate(305.06,593.4) rotate(46) scale(0.85,1)" font-size="9.9" fill="#303030" stroke="#303030" stroke-width="0.16" dy="7.33">Clostridium symbiosum</text>
<text transform="translate(323.66,593.4) rotate(46) scale(0.85,1)" font-size="9.9" fill="#303030" stroke="#303030" stroke-width="0.16" dy="7.33">Dialister invisus</text>
<text transform="translate(342.25,593.4) rotate(46) scale(0.85,1)" font-size="9.9" fill="#303030" stroke="#303030" stroke-width="0.16" dy="7.33">Anaerostipes hadrus</text>
<text transform="translate(360.84,593.4) rotate(46) scale(0.85,1)" font-size="9.9" fill="#303030" stroke="#303030" stroke-width="0.16" dy="7.33">Bacteroides vulgatus</text>
<text transform="translate(379.43,593.4) rotate(46) scale(0.85,1)" font-size="9.9" fill="#303030" stroke="#303030" stroke-width="0.16" dy="7.33">Slackia isoflavoniconvertens</text>
<text transform="translate(398.02,593.4) rotate(46) scale(0.85,1)" font-size="9.9" fill="#303030" stroke="#303030" stroke-width="0.16" dy="7.33">Bacteroides massiliensis</text>
<text transform="translate(416.61,593.4) rotate(46) scale(0.85,1)" font-size="9.9" fill="#303030" stroke="#303030" stroke-width="0.16" dy="7.33">Alistipes indistinctus</text>
<text transform="translate(435.19,593.4) rotate(46) scale(0.85,1)" font-size="9.9" fill="#303030" stroke="#303030" stroke-width="0.16" dy="7.33">Firmicutes bacterium CAG 110</text>
<text transform="translate(453.79,593.4) rotate(46) scale(0.85,1)" font-size="9.9" fill="#303030" stroke="#303030" stroke-width="0.16" dy="7.33">Eubacterium eligens</text>
<text transform="translate(472.38,593.4) rotate(46) scale(0.85,1)" font-size="9.9" fill="#303030" stroke="#303030" stroke-width="0.16" dy="7.33">Alistipes finegoldii</text>
<text transform="translate(490.97,593.4) rotate(46) scale(0.85,1)" font-size="9.9" fill="#303030" stroke="#303030" stroke-width="0.16" dy="7.33">Ruminococcus gnavus</text>
<text transform="translate(509.56,593.4) rotate(46) scale(0.85,1)" font-size="9.9" fill="#303030" stroke="#303030" stroke-width="0.16" dy="7.33">Adlercreutzia equolifaciens</text>
<text transform="translate(528.14,593.4) rotate(46) scale(0.85,1)" font-size="9.9" fill="#303030" stroke="#303030" stroke-width="0.16" dy="7.33">Flavonifractor plautii</text>
<text transform="translate(546.73,593.4) rotate(46) scale(0.85,1)" font-size="9.9" fill="#303030" stroke="#303030" stroke-width="0.16" dy="7.33">Parabacteroides merdae</text>
<text transform="translate(565.32,593.4) rotate(46) scale(0.85,1)" font-size="9.9" fill="#303030" stroke="#303030" stroke-width="0.16" dy="7.33">Bifidobacterium bifidum</text>
<text transform="translate(583.91,593.4) rotate(46) scale(0.85,1)" font-size="9.9" fill="#303030" stroke="#303030" stroke-width="0.16" dy="7.33">Bifidobacterium longum</text>
<text transform="translate(602.50,593.4) rotate(46) scale(0.85,1)" font-size="9.9" fill="#303030" stroke="#303030" stroke-width="0.16" dy="7.33">Bifidobacterium adolescentis</text>
<text transform="translate(626.30,357.80) scale(0.88,1)" font-size="10.6" text-anchor="start" fill="#2a2a2a" >Correlation</text>
<text transform="translate(626.30,371.20) scale(0.88,1)" font-size="10.6" text-anchor="start" fill="#2a2a2a" >Coefficient</text>
<defs><linearGradient id="cb" x1="0" y1="1" x2="0" y2="0">
<stop offset="0" stop-color="#4575b4"/><stop offset="0.1667" stop-color="#91bfdb"/>
<stop offset="0.3333" stop-color="#e0f3f8"/><stop offset="0.5" stop-color="#ffffbf"/>
<stop offset="0.6667" stop-color="#fee090"/><stop offset="0.8333" stop-color="#fc8d59"/>
<stop offset="1" stop-color="#d73027"/></linearGradient></defs>
<rect x="634.1" y="378.0" width="10.9" height="156.2" fill="url(#cb)"/>
<text transform="translate(648.90,391.80) scale(0.79,1)" font-size="10.7" text-anchor="start" fill="#2a2a2a" >0.4</text>
<text transform="translate(648.90,415.40) scale(0.79,1)" font-size="10.7" text-anchor="start" fill="#2a2a2a" >0.3</text>
<text transform="translate(648.90,439.10) scale(0.79,1)" font-size="10.7" text-anchor="start" fill="#2a2a2a" >0.2</text>
<text transform="translate(648.90,462.60) scale(0.79,1)" font-size="10.7" text-anchor="start" fill="#2a2a2a" >0.1</text>
<text transform="translate(648.90,486.00) scale(0.79,1)" font-size="10.7" text-anchor="start" fill="#2a2a2a" >0</text>
<text transform="translate(648.90,509.80) scale(0.79,1)" font-size="10.7" text-anchor="start" fill="#2a2a2a" >−0.1</text>
<text transform="translate(648.90,533.90) scale(0.79,1)" font-size="10.7" text-anchor="start" fill="#2a2a2a" >−0.2</text>
</svg>
</body></html>
